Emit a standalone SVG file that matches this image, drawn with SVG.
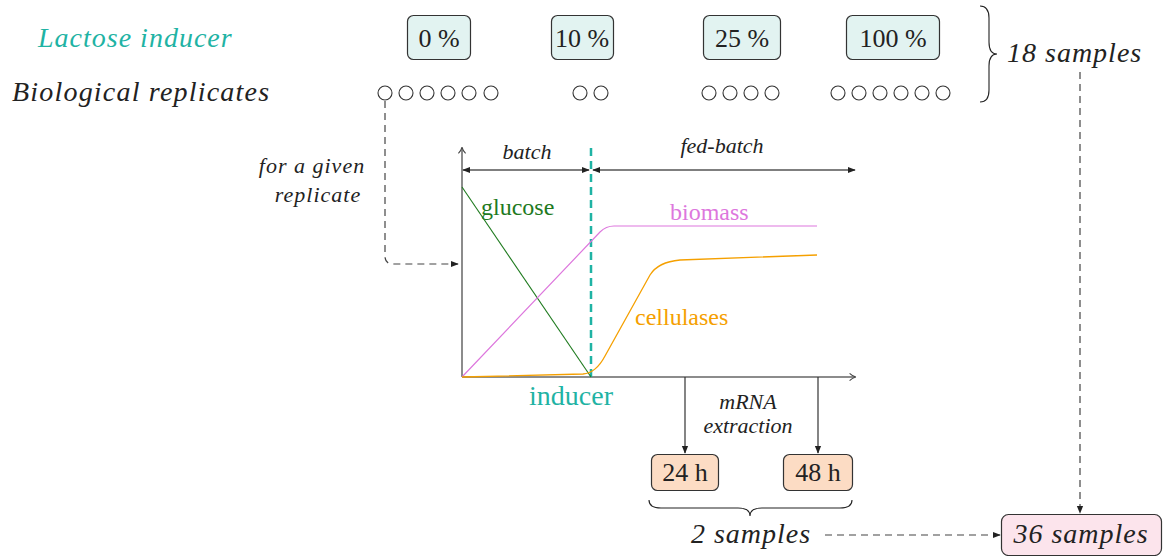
<svg xmlns="http://www.w3.org/2000/svg" width="1163" height="556" viewBox="0 0 1163 556">
<defs>
<style>
.pct{fill:#e2f3f1;stroke:#333;stroke-width:1.2}
.hr{fill:#fcdcc4;stroke:#333;stroke-width:1.2}
.dash{stroke:#444;stroke-width:1.2;fill:none;stroke-dasharray:7,5}
</style>
<marker id="fa" viewBox="0 0 10 10" refX="9" refY="5" markerWidth="8" markerHeight="8" markerUnits="userSpaceOnUse" orient="auto"><path d="M0,1 L10,5 L0,9 z" fill="#222"/></marker>
<marker id="fs" viewBox="0 0 10 10" refX="1" refY="5" markerWidth="8" markerHeight="8" markerUnits="userSpaceOnUse" orient="auto"><path d="M10,1 L0,5 L10,9 z" fill="#222"/></marker>
<marker id="oa" viewBox="0 0 10 10" refX="8" refY="5" markerWidth="9" markerHeight="9" markerUnits="userSpaceOnUse" orient="auto"><path d="M2,1 Q5,4 9,5 Q5,6 2,9" fill="none" stroke="#444" stroke-width="1.2"/></marker>
</defs>

<g id="labels">
<text font-family="Liberation Serif" font-style="italic" fill="#1fb3a4" x="38" y="47" font-size="28" letter-spacing="1">Lactose inducer</text>
<text font-family="Liberation Serif" font-style="italic" fill="#222" x="12" y="101" font-size="28" letter-spacing="1.2">Biological replicates</text>
</g>

<g id="pct0"><rect class="pct" x="407.500" y="15.500" width="63" height="44" rx="6"/><text font-family="Liberation Serif" font-size="26" fill="#222" text-anchor="middle" x="439" y="47">0 %</text></g>
<g id="pct10"><rect class="pct" x="551.500" y="15.500" width="62" height="44" rx="6"/><text font-family="Liberation Serif" font-size="26" fill="#222" text-anchor="middle" x="582" y="47">10 %</text></g>
<g id="pct25"><rect class="pct" x="703.500" y="15.500" width="77" height="44" rx="6"/><text font-family="Liberation Serif" font-size="26" fill="#222" text-anchor="middle" x="742" y="47">25 %</text></g>
<g id="pct100"><rect class="pct" x="846.500" y="15.500" width="93" height="44" rx="6"/><text font-family="Liberation Serif" font-size="26" fill="#222" text-anchor="middle" x="893" y="47">100 %</text></g>

<g id="replicates" fill="#fff" stroke="#333" stroke-width="1.1">
<circle cx="385" cy="93" r="7"/><circle cx="406" cy="93" r="7"/><circle cx="427" cy="93" r="7"/><circle cx="448" cy="93" r="7"/><circle cx="469" cy="93" r="7"/><circle cx="491" cy="93" r="7"/>
<circle cx="580" cy="93" r="7"/><circle cx="601" cy="93" r="7"/>
<circle cx="709" cy="93" r="7"/><circle cx="730" cy="93" r="7"/><circle cx="751" cy="93" r="7"/><circle cx="772" cy="93" r="7"/>
<circle cx="838" cy="93" r="7"/><circle cx="859" cy="93" r="7"/><circle cx="880" cy="93" r="7"/><circle cx="901" cy="93" r="7"/><circle cx="922" cy="93" r="7"/><circle cx="943" cy="93" r="7"/>
</g>

<g id="brace18">
<path fill="none" stroke="#222" stroke-width="1.1" d="M980,6 Q989,6 989,18 V42 Q989,54 997,54 Q989,54 989,66 V90 Q989,102 980,102"/>
<text font-family="Liberation Serif" font-style="italic" fill="#222" x="1007" y="62" font-size="28" letter-spacing="1">18 samples</text>
</g>

<g id="chart">
<line stroke="#666" stroke-width="1.5" x1="462" y1="377" x2="462" y2="148" marker-end="url(#oa)"/>
<line stroke="#666" stroke-width="1.5" x1="462" y1="377" x2="855" y2="377" marker-end="url(#oa)"/>
<line x1="591" y1="148" x2="591" y2="377" stroke="#1fb3a4" stroke-width="2.5" stroke-dasharray="8,5"/>
<line x1="462" y1="187" x2="591" y2="377" stroke="#1e7a1e" stroke-width="1.1"/>
<path d="M462,377 L600,232 Q606,226 614,226 L817,226" fill="none" stroke="#dd77dd" stroke-width="1.2"/>
<path d="M462,377 L583,374 Q596,373 605,356 L650,275 Q658,262 680,260 L817,255" fill="none" stroke="#f5a000" stroke-width="1.3"/>
<text font-family="Liberation Serif" fill="#1e7a1e" x="481" y="215" font-size="24">glucose</text>
<text font-family="Liberation Serif" fill="#dd77dd" x="670" y="220" font-size="24">biomass</text>
<text font-family="Liberation Serif" fill="#f5a000" x="635" y="325" font-size="24">cellulases</text>
<text font-family="Liberation Serif" fill="#1fb3a4" x="571" y="405" font-size="28" text-anchor="middle">inducer</text>
<text font-family="Liberation Serif" font-style="italic" fill="#222" x="527" y="159" font-size="22" text-anchor="middle">batch</text>
<text font-family="Liberation Serif" font-style="italic" fill="#222" x="722" y="153" font-size="22" text-anchor="middle">fed-batch</text>
</g>

<g id="hour24"><rect class="hr" x="651.500" y="454.500" width="67" height="36" rx="6"/><text font-family="Liberation Serif" font-size="26" fill="#222" text-anchor="middle" x="685" y="481">24 h</text></g>
<g id="hour48"><rect class="hr" x="783.500" y="454.500" width="69" height="36" rx="6"/><text font-family="Liberation Serif" font-size="26" fill="#222" text-anchor="middle" x="818" y="481">48 h</text></g>

<g id="total"><rect x="1001.500" y="514.500" width="160" height="41" rx="7" fill="#fce4ec" stroke="#333" stroke-width="1.2"/><text font-family="Liberation Serif" font-style="italic" fill="#222" x="1081" y="543" font-size="28" letter-spacing="1" text-anchor="middle">36 samples</text></g>

<g id="connectors" fill="none">
<line x1="463" y1="170" x2="589" y2="170" stroke="#555" stroke-width="1.5" marker-start="url(#fs)" marker-end="url(#fa)"/>
<line x1="593" y1="170" x2="855" y2="170" stroke="#555" stroke-width="1.5" marker-start="url(#fs)" marker-end="url(#fa)"/>
<path class="dash" d="M385,101 V256 Q385,264 393,264 H458" marker-end="url(#fa)"/>
<line x1="685" y1="377" x2="685" y2="453" stroke="#333" stroke-width="1.2" marker-end="url(#fa)"/>
<line x1="818" y1="377" x2="818" y2="453" stroke="#333" stroke-width="1.2" marker-end="url(#fa)"/>
<line class="dash" x1="1080" y1="72" x2="1080" y2="513" marker-end="url(#fa)"/>
<line class="dash" x1="825" y1="535" x2="1000" y2="535" marker-end="url(#fa)"/>
</g>

<g id="notes">
<text font-family="Liberation Serif" font-style="italic" fill="#222" font-size="22" letter-spacing="1" x="312" y="173" text-anchor="middle">for a given</text>
<text font-family="Liberation Serif" font-style="italic" fill="#222" font-size="22" letter-spacing="1" x="318" y="202" text-anchor="middle">replicate</text>
<text font-family="Liberation Serif" font-style="italic" fill="#222" font-size="22" x="748" y="409" text-anchor="middle">mRNA</text>
<text font-family="Liberation Serif" font-style="italic" fill="#222" font-size="22" x="748" y="433" text-anchor="middle">extraction</text>
</g>

<g id="brace2">
<path fill="none" stroke="#222" stroke-width="1.1" d="M649,500 Q649,508 661,508 H738 Q750,508 750,516 Q750,508 762,508 H840 Q852,508 852,500"/>
<text font-family="Liberation Serif" font-style="italic" fill="#222" x="751" y="543" font-size="28" letter-spacing="1" text-anchor="middle">2 samples</text>
</g>
</svg>
